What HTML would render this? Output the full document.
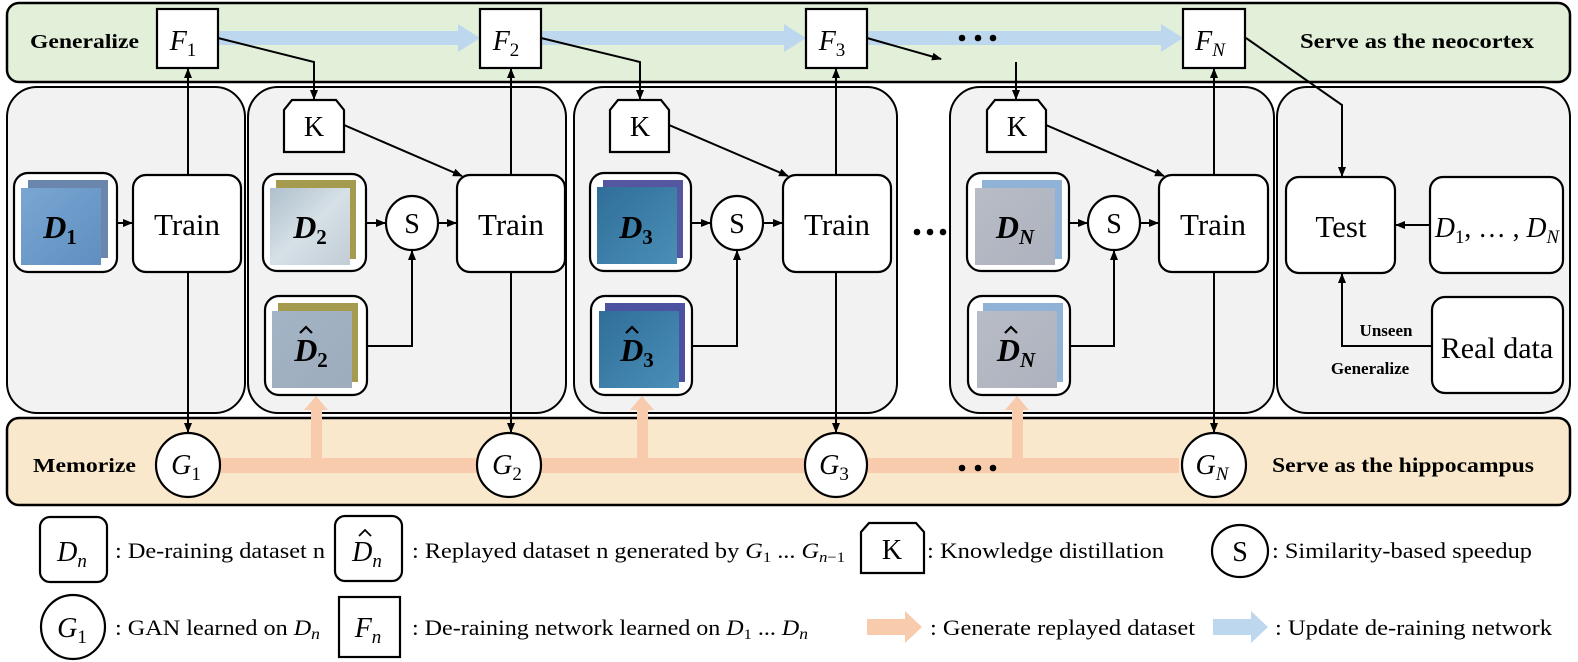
<!DOCTYPE html>
<html><head><meta charset="utf-8"><style>
html,body{margin:0;padding:0;background:#fff;}
svg{display:block;font-family:"Liberation Serif","Times New Roman",serif;}
svg text{font-family:"Liberation Serif","Times New Roman",serif;}
.b{font-weight:bold;}
.m{font-style:italic;}
</style></head><body>
<svg width="1578" height="662" viewBox="0 0 1578 662" xmlns="http://www.w3.org/2000/svg" font-family="Liberation Serif, serif">
<defs>
<marker id="ah" markerWidth="10" markerHeight="10" refX="9" refY="5" orient="auto" markerUnits="userSpaceOnUse">
<path d="M0,1 L10,5 L0,9 Z" fill="#000"/></marker>
<linearGradient id="g1" x1="0" y1="0" x2="1" y2="1"><stop offset="0" stop-color="#7aa6d2"/><stop offset="1" stop-color="#5f8fc0"/></linearGradient>
<linearGradient id="g2" x1="0" y1="0" x2="1" y2="1"><stop offset="0" stop-color="#aebfcc"/><stop offset="0.5" stop-color="#d6e0e6"/><stop offset="1" stop-color="#c2ccd6"/></linearGradient>
<linearGradient id="g2h" x1="0" y1="0" x2="1" y2="1"><stop offset="0" stop-color="#a2b4c6"/><stop offset="1" stop-color="#9eacbc"/></linearGradient>
<linearGradient id="g3" x1="0" y1="0" x2="1" y2="1"><stop offset="0" stop-color="#2f6e98"/><stop offset="1" stop-color="#4a8fb8"/></linearGradient>
<linearGradient id="gn" x1="0" y1="0" x2="1" y2="1"><stop offset="0" stop-color="#b8bcc6"/><stop offset="1" stop-color="#aeb2be"/></linearGradient>
</defs>

<rect x="7" y="3" width="1563" height="79" rx="12" fill="#e2efd9" stroke="#000" stroke-width="2.5"/>
<rect x="7" y="418" width="1563" height="87" rx="12" fill="#f9e8cb" stroke="#000" stroke-width="2.5"/>

<rect x="7" y="87" width="238" height="326" rx="30" fill="#f2f2f2" stroke="#000" stroke-width="2"/>
<rect x="248" y="87" width="318" height="326" rx="30" fill="#f2f2f2" stroke="#000" stroke-width="2"/>
<rect x="574" y="87" width="323" height="326" rx="30" fill="#f2f2f2" stroke="#000" stroke-width="2"/>
<rect x="950" y="87" width="324" height="326" rx="30" fill="#f2f2f2" stroke="#000" stroke-width="2"/>
<rect x="1277" y="87" width="293" height="326" rx="30" fill="#f2f2f2" stroke="#000" stroke-width="2"/>

<g fill="#bdd7ee">
<rect x="218" y="31" width="244" height="14"/><path d="M458,24 L480,38 L458,52 Z"/>
<rect x="541" y="31" width="245" height="14"/><path d="M784,24 L806,38 L784,52 Z"/>
<rect x="867" y="31" width="296" height="14"/><path d="M1161,24 L1183,38 L1161,52 Z"/>
</g>
<g fill="#000"><circle cx="962" cy="38" r="3.3"/><circle cx="978" cy="38" r="3.3"/><circle cx="993" cy="38" r="3.3"/></g>

<rect x="219" y="458" width="960" height="15" fill="#f8cbad"/>
<g fill="#f8cbad">
<rect x="311" y="408" width="11" height="52"/><path d="M304,410 L316,396 L328,410 Z"/>
<rect x="637" y="408" width="11" height="52"/><path d="M630,410 L642,396 L654,410 Z"/>
<rect x="1012" y="408" width="11" height="52"/><path d="M1005,410 L1017,396 L1029,410 Z"/>
</g>
<g fill="#000"><circle cx="962" cy="468" r="3.3"/><circle cx="978" cy="468" r="3.3"/><circle cx="993" cy="468" r="3.3"/></g>

<text x="30" y="48" class="b" font-size="20" textLength="109" lengthAdjust="spacingAndGlyphs">Generalize</text>
<text x="1300" y="48" class="b" font-size="21" textLength="234" lengthAdjust="spacingAndGlyphs">Serve as the neocortex</text>
<text x="33" y="472" class="b" font-size="20" textLength="103" lengthAdjust="spacingAndGlyphs">Memorize</text>
<text x="1272" y="472" class="b" font-size="21" textLength="262" lengthAdjust="spacingAndGlyphs">Serve as the hippocampus</text>

<g stroke="#000" stroke-width="2" fill="none">
<line x1="188" y1="175" x2="188" y2="69" marker-end="url(#ah)"/>
<line x1="188" y1="272" x2="188" y2="432" marker-end="url(#ah)"/>
<line x1="511" y1="175" x2="511" y2="69" marker-end="url(#ah)"/>
<line x1="511" y1="272" x2="511" y2="432" marker-end="url(#ah)"/>
<line x1="836" y1="175" x2="836" y2="69" marker-end="url(#ah)"/>
<line x1="836" y1="272" x2="836" y2="432" marker-end="url(#ah)"/>
<line x1="1214" y1="175" x2="1214" y2="69" marker-end="url(#ah)"/>
<line x1="1214" y1="272" x2="1214" y2="432" marker-end="url(#ah)"/>
<polyline points="218,38 314,62 314,99" marker-end="url(#ah)"/>
<polyline points="541,38 640,62 640,99" marker-end="url(#ah)"/>
<line x1="867" y1="38" x2="941" y2="59" marker-end="url(#ah)"/>
<line x1="1016" y1="62" x2="1016" y2="99" marker-end="url(#ah)"/>
<line x1="344" y1="125" x2="462" y2="176" marker-end="url(#ah)"/>
<line x1="669" y1="125" x2="788" y2="176" marker-end="url(#ah)"/>
<line x1="1046" y1="125" x2="1164" y2="176" marker-end="url(#ah)"/>
<line x1="117" y1="223" x2="132" y2="223" marker-end="url(#ah)"/>
<line x1="366" y1="223" x2="385" y2="223" marker-end="url(#ah)"/>
<line x1="438" y1="223" x2="456" y2="223" marker-end="url(#ah)"/>
<line x1="691" y1="223" x2="710" y2="223" marker-end="url(#ah)"/>
<line x1="763" y1="223" x2="782" y2="223" marker-end="url(#ah)"/>
<line x1="1069" y1="223" x2="1087" y2="223" marker-end="url(#ah)"/>
<line x1="1140" y1="223" x2="1158" y2="223" marker-end="url(#ah)"/>
<polyline points="367,346 412,346 412,251" marker-end="url(#ah)"/>
<polyline points="692,346 737,346 737,251" marker-end="url(#ah)"/>
<polyline points="1070,346 1114,346 1114,251" marker-end="url(#ah)"/>
<polyline points="1246,38 1342,105 1342,176" marker-end="url(#ah)"/>
<line x1="1430" y1="225" x2="1396" y2="225" marker-end="url(#ah)"/>
<polyline points="1432,346 1342,346 1342,274" marker-end="url(#ah)"/>
</g>

<g stroke="#000" stroke-width="2.2" fill="#fff">
<rect x="157" y="9" width="61" height="59"/>
<rect x="480" y="9" width="61" height="59"/>
<rect x="806" y="9" width="61" height="59"/>
<rect x="1183" y="9" width="62" height="59"/>
</g>
<g font-size="28" class="m" text-anchor="middle">
<text x="183" y="50">F<tspan font-size="19" dy="6" font-style="normal">1</tspan></text>
<text x="506" y="50">F<tspan font-size="19" dy="6" font-style="normal">2</tspan></text>
<text x="832" y="50">F<tspan font-size="19" dy="6" font-style="normal">3</tspan></text>
<text x="1210" y="50">F<tspan font-size="19" dy="6">N</tspan></text>
</g>

<g stroke="#000" stroke-width="2.2" fill="#fff">
<path d="M292,100 L336,100 L344,110 L344,152 L284,152 L284,110 Z"/>
<path d="M618,100 L661,100 L669,110 L669,152 L610,152 L610,110 Z"/>
<path d="M995,100 L1038,100 L1046,110 L1046,152 L987,152 L987,110 Z"/>
</g>
<g font-size="28" text-anchor="middle">
<text x="314" y="136">K</text><text x="640" y="136">K</text><text x="1017" y="136">K</text>
</g>

<g stroke="#000" stroke-width="2.2" fill="#fff">
<rect x="133" y="175" width="108" height="97" rx="13"/>
<rect x="457" y="175" width="108" height="97" rx="13"/>
<rect x="783" y="175" width="108" height="97" rx="13"/>
<rect x="1159" y="175" width="109" height="97" rx="13"/>
<rect x="1286" y="177" width="109" height="96" rx="13"/>
<rect x="1430" y="177" width="133" height="96" rx="13"/>
<rect x="1432" y="297" width="131" height="96" rx="13"/>
</g>
<g font-size="31" text-anchor="middle">
<text x="187" y="235">Train</text><text x="511" y="235">Train</text>
<text x="837" y="235">Train</text><text x="1213" y="235">Train</text>
<text x="1341" y="237">Test</text>
<text x="1497" y="358" font-size="30">Real data</text>
</g>
<text x="1497" y="237" font-size="28" class="m" text-anchor="middle" textLength="124" lengthAdjust="spacingAndGlyphs">D<tspan font-size="19" dy="6" font-style="normal">1</tspan><tspan dy="-6" font-style="normal">, … , </tspan>D<tspan font-size="19" dy="6">N</tspan></text>
<text x="1386" y="336" class="b" font-size="17" text-anchor="middle">Unseen</text>
<text x="1370" y="374" class="b" font-size="17" text-anchor="middle">Generalize</text>

<g stroke="#000" stroke-width="2.2" fill="#fff">
<ellipse cx="412" cy="223" rx="26" ry="27"/>
<ellipse cx="737" cy="223" rx="26" ry="27"/>
<ellipse cx="1114" cy="223" rx="26" ry="27"/>
</g>
<g font-size="28" text-anchor="middle">
<text x="412" y="233">S</text><text x="737" y="233">S</text><text x="1114" y="233">S</text>
</g>

<g stroke="#000" stroke-width="2.2" fill="#fff">
<rect x="14" y="173" width="103" height="99" rx="14"/>
<rect x="263" y="174" width="103" height="97" rx="14"/>
<rect x="265" y="296" width="102" height="99" rx="14"/>
<rect x="590" y="173" width="101" height="98" rx="14"/>
<rect x="591" y="296" width="101" height="99" rx="14"/>
<rect x="967" y="173" width="102" height="98" rx="14"/>
<rect x="968" y="296" width="102" height="99" rx="14"/>
</g>
<rect x="28" y="180" width="80" height="78" fill="#6b86ad"/><rect x="21" y="188" width="80" height="77" fill="url(#g1)"/>
<rect x="276" y="180" width="80" height="79" fill="#a49b4e"/><rect x="270" y="188" width="80" height="77" fill="url(#g2)"/>
<rect x="278" y="303" width="80" height="79" fill="#a49b4e"/><rect x="272" y="311" width="80" height="77" fill="url(#g2h)"/>
<rect x="603" y="180" width="80" height="78" fill="#5556a0"/><rect x="597" y="187" width="80" height="77" fill="url(#g3)"/>
<rect x="605" y="303" width="80" height="79" fill="#4d52a0"/><rect x="599" y="311" width="80" height="77" fill="url(#g3)"/>
<rect x="982" y="180" width="80" height="79" fill="#8fb2d6"/><rect x="975" y="188" width="80" height="77" fill="url(#gn)"/>
<rect x="983" y="303" width="80" height="79" fill="#8fb2d6"/><rect x="977" y="311" width="80" height="77" fill="url(#gn)"/>
<g font-size="32" class="b m" fill="#000" text-anchor="middle">
<text x="60" y="238">D<tspan font-size="21" dy="6" font-style="normal">1</tspan></text>
<text x="310" y="238">D<tspan font-size="21" dy="6" font-style="normal">2</tspan></text>
<text x="311" y="361">D<tspan font-size="21" dy="6" font-style="normal">2</tspan></text>
<text x="636" y="238">D<tspan font-size="21" dy="6" font-style="normal">3</tspan></text>
<text x="637" y="361">D<tspan font-size="21" dy="6" font-style="normal">3</tspan></text>
<text x="1015" y="238">D<tspan font-size="21" dy="6">N</tspan></text>
<text x="1016" y="361">D<tspan font-size="21" dy="6">N</tspan></text>
</g>
<g stroke="#000" stroke-width="2.2" fill="none">
<path d="M300,333 L306,327 L312,333"/>
<path d="M626,333 L632,327 L638,333"/>
<path d="M1005,333 L1011,327 L1017,333"/>
</g>
<g fill="#000"><circle cx="917" cy="232" r="3.3"/><circle cx="930" cy="232" r="3.3"/><circle cx="943" cy="232" r="3.3"/></g>

<g stroke="#000" stroke-width="2.2" fill="#fff">
<ellipse cx="188" cy="465" rx="32" ry="32"/>
<ellipse cx="509" cy="465" rx="32" ry="32"/>
<ellipse cx="836" cy="465" rx="31" ry="32"/>
<ellipse cx="1214" cy="465" rx="32" ry="32"/>
</g>
<g font-size="28" class="m" text-anchor="middle">
<text x="186" y="474">G<tspan font-size="19" dy="6" font-style="normal">1</tspan></text>
<text x="507" y="474">G<tspan font-size="19" dy="6" font-style="normal">2</tspan></text>
<text x="834" y="474">G<tspan font-size="19" dy="6" font-style="normal">3</tspan></text>
<text x="1212" y="474">G<tspan font-size="19" dy="6">N</tspan></text>
</g>

<g stroke="#000" stroke-width="2.2" fill="#fff">
<rect x="40" y="517" width="67" height="65" rx="10"/>
<rect x="335" y="516" width="67" height="65" rx="10"/>
<path d="M869,523 L916,523 L924,532 L924,573 L861,573 L861,532 Z"/>
<ellipse cx="1240" cy="551" rx="28" ry="26"/>
<ellipse cx="73" cy="627" rx="32" ry="32"/>
<rect x="339" y="597" width="61" height="60"/>
</g>
<path d="M359,536 L365,530 L371,536" stroke="#000" stroke-width="1.8" fill="none"/>
<g font-size="28" class="m" text-anchor="middle">
<text x="72" y="561">D<tspan font-size="19" dy="6">n</tspan></text>
<text x="367" y="561">D<tspan font-size="19" dy="6">n</tspan></text>
<text x="72" y="637">G<tspan font-size="19" dy="6" font-style="normal">1</tspan></text>
<text x="368" y="637">F<tspan font-size="19" dy="6">n</tspan></text>
</g>
<text x="892" y="559" font-size="28" text-anchor="middle">K</text>
<text x="1240" y="561" font-size="28" text-anchor="middle">S</text>
<g font-size="22">
<text x="115" y="558" textLength="210" lengthAdjust="spacingAndGlyphs">: De-raining dataset n</text>
<text x="412" y="558" textLength="433" lengthAdjust="spacingAndGlyphs">: Replayed dataset n generated by <tspan class="m">G</tspan><tspan font-size="15" dy="4">1</tspan><tspan dy="-4"> ... </tspan><tspan class="m">G</tspan><tspan font-size="15" dy="4" class="m">n</tspan><tspan font-size="15">−1</tspan></text>
<text x="927" y="558" textLength="237" lengthAdjust="spacingAndGlyphs">: Knowledge distillation</text>
<text x="1272" y="558" textLength="260" lengthAdjust="spacingAndGlyphs">: Similarity-based speedup</text>
<text x="115" y="635" textLength="205" lengthAdjust="spacingAndGlyphs">: GAN learned on <tspan class="m">D</tspan><tspan font-size="16" dy="4" class="m">n</tspan></text>
<text x="412" y="635" textLength="396" lengthAdjust="spacingAndGlyphs">: De-raining network learned on <tspan class="m">D</tspan><tspan font-size="15" dy="4">1</tspan><tspan dy="-4"> ... </tspan><tspan class="m">D</tspan><tspan font-size="16" dy="4" class="m">n</tspan></text>
<text x="930" y="635" textLength="265" lengthAdjust="spacingAndGlyphs">: Generate replayed dataset</text>
<text x="1275" y="635" textLength="277" lengthAdjust="spacingAndGlyphs">: Update de-raining network</text>
</g>
<path d="M867,619 L905,619 L905,611 L922,627 L905,643 L905,635 L867,635 Z" fill="#f8cbad"/>
<path d="M1213,619 L1251,619 L1251,611 L1268,627 L1251,643 L1251,635 L1213,635 Z" fill="#bdd7ee"/>
</svg>
</body></html>
